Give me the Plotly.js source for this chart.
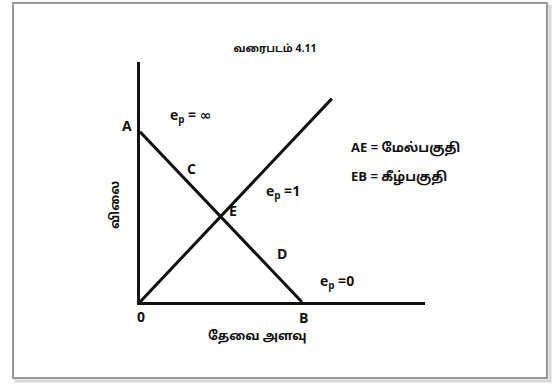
<!DOCTYPE html>
<html>
<head>
<meta charset="utf-8">
<script src="https://cdn.plot.ly/plotly-3.0.1.min.js"></script>
<style>html,body{margin:0;padding:0;background:#fff;}#chart{width:552px;height:384px;}</style>
</head>
<body>
<div id="chart"></div>
<script>
// Data (diagram units)
const xMax = 17.6;
const yMax = 14.1;
const demandX = [0, 10];
const demandY = [10, 0];
const rayX = [0, 11.85];
const rayY = [0, 11.95];
const titleText = "வரைபடம் 4.11";
const xLabel = "தேவை அளவு";
const yLabel = "விலை";
const legendLines = ["AE = மேல்பகுதி", "EB = கீழ்பகுதி"];
const pointLabels = ["A", "C", "E", "D", "0", "B"];
const elasticityLabels = ["e<sub>p</sub> = ∞", "e<sub>p</sub> =1", "e<sub>p</sub> =0"];

const W = 552, H = 384;
const fontFam = "'Noto Sans Tamil', 'Lohit Tamil', 'Noto Sans', 'DejaVu Sans', sans-serif";
const ln = {color: '#111', width: 3};
const traces = [
  {x: demandX, y: demandY, mode: 'lines', line: ln, hoverinfo: 'skip', cliponaxis: false},
  {x: rayX, y: rayY, mode: 'lines', line: ln, hoverinfo: 'skip', cliponaxis: false}
];
function P(px, py, text, size, extra) {
  return Object.assign({xref: 'paper', yref: 'paper', x: (px - 140) / 285, y: (302 - py) / 240,
    text: text, showarrow: false, xanchor: 'center', yanchor: 'middle',
    font: {family: fontFam, size: size || 14, color: '#111', weight: 'bold'}}, extra || {});
}
const pointPos = [[127,127],[191,170],[233,212],[282,255],[141,318],[303,319]];
const elastPos = [[190,118],[283,193],[337,283]];
const annotations = [];
pointLabels.forEach((t, i) => annotations.push(P(pointPos[i][0], pointPos[i][1], t, 14)));
elasticityLabels.forEach((t, i) => annotations.push(P(elastPos[i][0], elastPos[i][1], t, 14)));
annotations.push(P(349, 148, legendLines[0], 13, {xanchor: 'left'}));
annotations.push(P(349, 177, legendLines[1], 13, {xanchor: 'left'}));
annotations.push(P(257, 336, xLabel, 12.5));
annotations.push(P(115, 205, yLabel, 12.5, {textangle: -90}));

const axisCommon = {showgrid: false, zeroline: false, showticklabels: false, ticks: '',
  showline: true, linecolor: '#111', linewidth: 3, fixedrange: true};
const layout = {
  width: W, height: H,
  margin: {l: 140, r: 127, t: 62, b: 82, pad: 0},
  paper_bgcolor: '#fff', plot_bgcolor: 'rgba(0,0,0,0)',
  showlegend: false,
  title: {text: titleText, font: {family: fontFam, size: 10.5, color: '#111', weight: 'bold'},
    xref: 'paper', x: (275 - 140) / 285, xanchor: 'center', yref: 'container', y: 1 - 48 / H, yanchor: 'middle'},
  xaxis: Object.assign({range: [0, xMax]}, axisCommon),
  yaxis: Object.assign({range: [0, yMax]}, axisCommon),
  shapes: [
    {type: 'rect', xref: 'paper', yref: 'paper', x0: (16 - 140) / 285, x1: (550 - 140) / 285,
      y0: (302 - 381) / 240, y1: (302 - 6) / 240, line: {color: '#d8d8d8', width: 3}, layer: 'below'},
    {type: 'rect', xref: 'paper', yref: 'paper', x0: (13 - 140) / 285, x1: (547 - 140) / 285,
      y0: (302 - 378) / 240, y1: (302 - 3) / 240, line: {color: '#9a9a9a', width: 2}, fillcolor: '#fff', layer: 'below'}
  ],
  annotations: annotations
};
Plotly.newPlot('chart', traces, layout, {staticPlot: true, displayModeBar: false});
</script>
</body>
</html>
